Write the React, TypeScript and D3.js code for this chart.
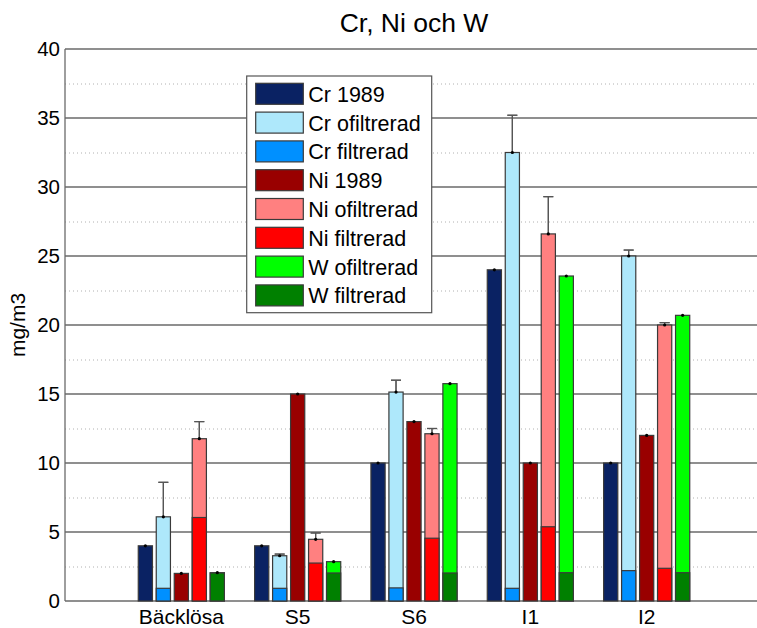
import React from "react";
import * as d3 from "d3";

const categories = ["Bäcklösa", "S5", "S6", "I1", "I2"];
const cr1989 = [4, 4, 10, 24, 10];
const crOfiltrerad = [6.1, 3.28, 15.14, 32.5, 25.0];
const crOfiltreradErr = [2.5, 0.12, 0.86, 2.7, 0.43];
const crFiltrerad = [0.92, 0.92, 0.95, 0.92, 2.2];
const ni1989 = [2, 15, 13, 10, 12];
const niOfiltrerad = [11.76, 4.47, 12.12, 26.6, 20.0];
const niOfiltreradErr = [1.24, 0.46, 0.38, 2.7, 0.17];
const niFiltrerad = [6.05, 2.75, 4.55, 5.38, 2.37];
const wOfiltrerad = [2.05, 2.85, 15.75, 23.55, 20.7];
const wFiltrerad = [2.03, 2.03, 2.03, 2.05, 2.05];
const yTicks = [0, 5, 10, 15, 20, 25, 30, 35, 40];
const yMinorTicks = [2.5, 7.5, 12.5, 17.5, 22.5, 27.5, 32.5, 37.5];

const legendItems = [
  { label: "Cr 1989", color: "#0a2263" },
  { label: "Cr ofiltrerad", color: "#aee8fb" },
  { label: "Cr filtrerad", color: "#0090ff" },
  { label: "Ni 1989", color: "#990000" },
  { label: "Ni ofiltrerad", color: "#ff8080" },
  { label: "Ni filtrerad", color: "#ff0000" },
  { label: "W ofiltrerad", color: "#00ff00" },
  { label: "W filtrerad", color: "#008000" },
];
const C = Object.fromEntries(legendItems.map((d) => [d.label, d.color]));

const W = 757;
const H = 628;
const FONT = "'Liberation Sans', Arial, sans-serif";

export default function App() {
  const x = d3.scaleLinear().domain([0, 6]).range([65, 763]);
  const y = d3.scaleLinear().domain([0, 40]).range([601, 49]);
  const pitch = 0.1546;
  const bw = 0.122;

  // slots: 0 Cr1989, 1 Cr ofilt/filt, 2 Ni1989, 3 Ni ofilt/filt, 4 W ofilt/filt
  type BarDef = { slot: number; values: number[]; color: string; err?: number[]; dot: boolean };
  const bars: BarDef[] = [
    { slot: 0, values: cr1989, color: C["Cr 1989"], err: [0, 0, 0, 0, 0], dot: true },
    { slot: 1, values: crOfiltrerad, color: C["Cr ofiltrerad"], err: crOfiltreradErr, dot: true },
    { slot: 1, values: crFiltrerad, color: C["Cr filtrerad"], dot: false },
    { slot: 2, values: ni1989, color: C["Ni 1989"], err: [0, 0, 0, 0, 0], dot: true },
    { slot: 3, values: niOfiltrerad, color: C["Ni ofiltrerad"], err: niOfiltreradErr, dot: true },
    { slot: 3, values: niFiltrerad, color: C["Ni filtrerad"], dot: false },
    { slot: 4, values: wOfiltrerad, color: C["W ofiltrerad"], err: [0, 0, 0, 0, 0], dot: true },
    { slot: 4, values: wFiltrerad, color: C["W filtrerad"], dot: false },
  ];

  const barX = (gi: number, slot: number) => x(gi + 1 + (slot - 2) * pitch - bw / 2);
  const barW = x(bw) - x(0);

  const legX = 246.7;
  const legY = 76;
  const legW = 185;
  const legH = 236.7;
  const rowPitch = 28.8;

  return (
    <svg
      width={W}
      height={H}
      style={{ position: "absolute", left: 0, top: 0, background: "#fff" }}
      fontFamily={FONT}
    >
      <rect x={0} y={0} width={W} height={H} fill="#fff" />
      {/* minor grid */}
      {yMinorTicks.map((t) => (
        <line
          key={"m" + t}
          x1={x(0)}
          x2={x(6)}
          y1={y(t) + 0.5}
          y2={y(t) + 0.5}
          stroke="#b0b0b0"
          strokeWidth={1}
          strokeDasharray="1,3"
        />
      ))}
      {/* major grid */}
      {yTicks.map((t) => (
        <line
          key={"g" + t}
          x1={x(0)}
          x2={x(6)}
          y1={y(t)}
          y2={y(t)}
          stroke="#6a6a6a"
          strokeWidth={1.3}
        />
      ))}
      <line x1={x(0)} x2={x(0)} y1={y(40)} y2={y(0)} stroke="#6a6a6a" strokeWidth={1.3} />
      {/* y tick labels */}
      {yTicks.map((t) => (
        <text
          key={"t" + t}
          x={60}
          y={y(t)}
          dy="0.36em"
          textAnchor="end"
          fontSize={20.5}
          fill="#000"
        >
          {t}
        </text>
      ))}
      {/* y label */}
      <text
        transform={`translate(25, ${(y(0) + y(40)) / 2}) rotate(-90)`}
        textAnchor="middle"
        fontSize={21}
        fill="#000"
      >
        mg/m3
      </text>
      {/* title */}
      <text x={414} y={32} textAnchor="middle" fontSize={26.5} fill="#000">
        Cr, Ni och W
      </text>
      {/* x labels */}
      {categories.map((c, i) => (
        <text key={c} x={x(i + 1)} y={624} textAnchor="middle" fontSize={21} fill="#000">
          {c}
        </text>
      ))}
      {/* error bars (drawn before bars so lower half is hidden) */}
      {bars.map((b, bi) =>
        b.err
          ? b.values.map((v, gi) => {
              const cx = barX(gi, b.slot) + barW / 2;
              const e = b.err![gi];
              return (
                <g key={`e${bi}-${gi}`} stroke="#555" strokeWidth={1.2}>
                  <line x1={cx} x2={cx} y1={y(v - e)} y2={y(v + e)} />
                  {e > 0 && <line x1={cx - 5} x2={cx + 5} y1={y(v + e)} y2={y(v + e)} />}
                </g>
              );
            })
          : null
      )}
      {/* bars */}
      {bars.map((b, bi) =>
        b.values.map((v, gi) => (
          <rect
            key={`b${bi}-${gi}`}
            x={barX(gi, b.slot)}
            y={y(v)}
            width={barW}
            height={y(0) - y(v)}
            fill={b.color}
            stroke="#3a3a3a"
            strokeWidth={1.2}
          />
        ))
      )}
      {/* error bar upper parts & markers */}
      {bars.map((b, bi) =>
        b.err
          ? b.values.map((v, gi) => {
              const cx = barX(gi, b.slot) + barW / 2;
              const e = b.err![gi];
              return (
                <g key={`u${bi}-${gi}`}>
                  {e > 0 && (
                    <g stroke="#555" strokeWidth={1.2}>
                      <line x1={cx} x2={cx} y1={y(v)} y2={y(v + e)} />
                      <line x1={cx - 5} x2={cx + 5} y1={y(v + e)} y2={y(v + e)} />
                    </g>
                  )}
                  <circle cx={cx} cy={y(v)} r={1.6} fill="#000" />
                </g>
              );
            })
          : null
      )}
      {/* legend */}
      <rect x={legX} y={legY} width={legW} height={legH} fill="#fff" stroke="#555" strokeWidth={1.2} />
      {legendItems.map((d, i) => (
        <g key={d.label}>
          <rect
            x={255.7}
            y={83.3 + i * rowPitch}
            width={47.6}
            height={21}
            fill={d.color}
            stroke="#3a3a3a"
            strokeWidth={1.2}
          />
          <text x={308.3} y={83.3 + i * rowPitch + 18.5} fontSize={21.5} fill="#000">
            {d.label}
          </text>
        </g>
      ))}
    </svg>
  );
}
